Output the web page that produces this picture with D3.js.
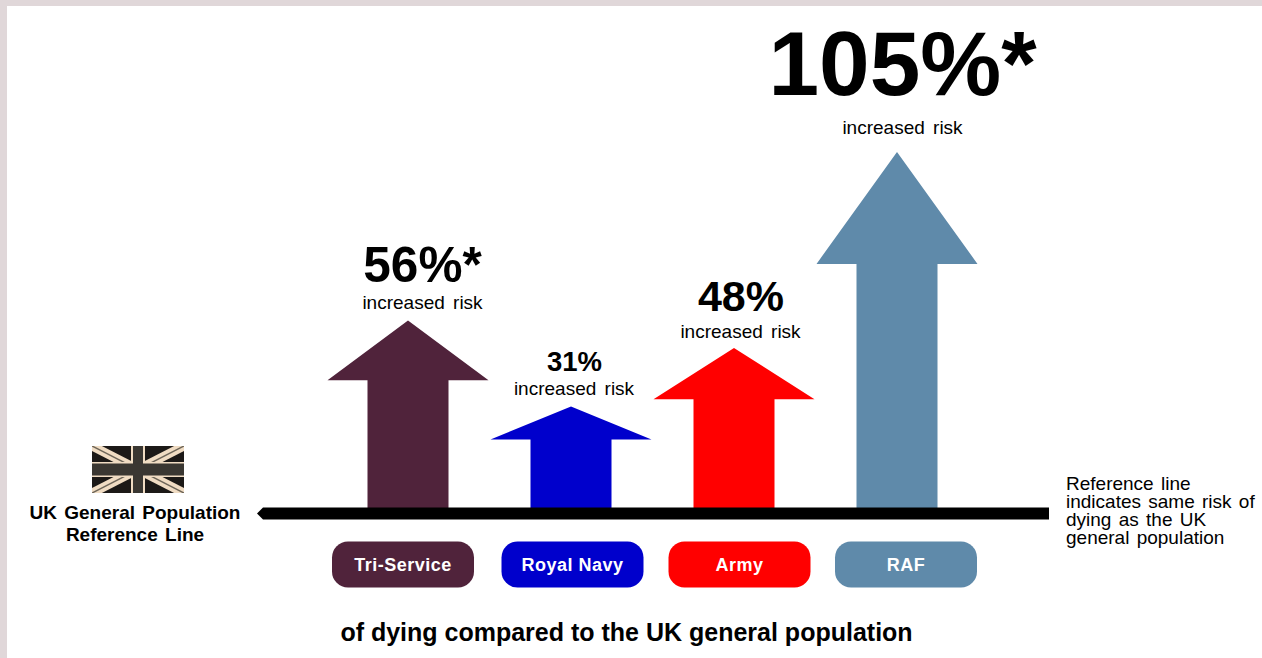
<!DOCTYPE html>
<html>
<head>
<meta charset="utf-8">
<script src="https://cdn.jsdelivr.net/npm/d3@7"></script>
<style>
html,body{margin:0;padding:0;background:#fff;overflow:hidden}
svg{display:block}
text{font-family:"Liberation Sans",Arial,sans-serif;fill:#000}
</style>
</head>
<body>
<svg id="chart" width="1262" height="658"></svg>
<script>
// Excess risk of dying by service, relative to the UK general population
const services = ["Tri-Service", "Royal Navy", "Army", "RAF"];
const riskIncrease = [56, 31, 48, 105];
const significant = [true, false, false, true];
const serviceColors = ["#50233b", "#0000cc", "#ff0000", "#5f8aaa"];
const riskSubtitle = "increased risk";
const referenceNote = ["Reference line", "indicates same risk of", "dying as the UK", "general population"];
const referenceLabel = ["UK General Population", "Reference Line"];
const footer = "of dying compared to the UK general population";

// Label placement per service, measured from the arrow tip and axis centre
const riskFontSizes = [49.5, 27.5, 43, 91];
const riskDx = [14.5, 3.5, 7, 5.5];
const riskDy = [38, 35, 37, 57];
const captionDx = [14.5, 3, 6.5, 5.5];
const captionDy = [11.5, 11.5, 9.5, 18.5];
const pillCentres = [403, 572.5, 739.5, 906];

const svg = d3.select("#chart");

// Page frame: thin band along the top and left edges
svg.append("rect").attr("width", 1262).attr("height", 6).attr("fill", "#e0d7d9");
svg.append("rect").attr("width", 7).attr("height", 658).attr("fill", "#e0d7d9");

const x = d3.scalePoint().domain(services).range([408, 897]);
const y = d3.scaleLinear().domain([0, 105]).range([513, 152]);

const headW = 161, shaftW = 81, headShare = 0.31;

function arrowPath(name, value) {
  const cx = x(name), base = y(0), tip = y(value);
  const neck = tip + (base - tip) * headShare;
  return d3.line()([
    [cx - shaftW / 2, base], [cx - shaftW / 2, neck], [cx - headW / 2, neck],
    [cx, tip], [cx + headW / 2, neck], [cx + shaftW / 2, neck], [cx + shaftW / 2, base]
  ]) + "Z";
}

const rows = services.map((name, i) => ({
  name, value: riskIncrease[i], star: significant[i], color: serviceColors[i], i
}));

svg.append("g").selectAll("path").data(rows).join("path")
  .attr("d", d => arrowPath(d.name, d.value))
  .attr("fill", d => d.color);

// Reference line, tapered to a point at its left end
svg.append("path")
  .attr("d", d3.line()([[257, 513.5], [263, 507.5], [1049, 507.5], [1049, 519.5], [263, 519.5]]) + "Z")
  .attr("fill", "#000");

// Percentage and caption above each arrow
const labels = svg.append("g").selectAll("g").data(rows).join("g");
labels.append("text")
  .attr("x", d => x(d.name) + captionDx[d.i])
  .attr("y", d => y(d.value) - captionDy[d.i])
  .attr("text-anchor", "middle")
  .attr("font-size", 19)
  .attr("word-spacing", 3)
  .text(riskSubtitle);
labels.append("text")
  .attr("x", d => x(d.name) + riskDx[d.i])
  .attr("y", d => y(d.value) - riskDy[d.i])
  .attr("text-anchor", "middle")
  .attr("font-weight", "bold")
  .attr("font-size", d => riskFontSizes[d.i])
  .text(d => d.value + "%" + (d.star ? "*" : ""));

// Service name pills under the line
const pillW = 142, pillH = 46;
const pills = svg.append("g").selectAll("g").data(rows).join("g")
  .attr("transform", d => `translate(${pillCentres[d.i]},564.5)`);
pills.append("rect")
  .attr("x", -pillW / 2).attr("y", -pillH / 2)
  .attr("width", pillW).attr("height", pillH)
  .attr("rx", 16).attr("fill", d => d.color);
pills.append("text")
  .attr("text-anchor", "middle").attr("y", 6.5)
  .attr("font-size", 18).attr("font-weight", "bold")
  .attr("letter-spacing", 0.5)
  .style("fill", "#fff")
  .text(d => d.name);

// Left-hand label for the reference line
svg.append("g").selectAll("text").data(referenceLabel).join("text")
  .attr("x", 135).attr("y", (d, i) => 519 + i * 22)
  .attr("text-anchor", "middle").attr("font-size", 19).attr("font-weight", "bold")
  .attr("word-spacing", 2)
  .text(d => d);

// Right-hand note
svg.append("g").selectAll("text").data(referenceNote).join("text")
  .attr("x", 1066).attr("y", (d, i) => 490 + i * 18)
  .attr("font-size", 19).attr("word-spacing", 2)
  .text(d => d);

svg.append("text")
  .attr("x", 626.5).attr("y", 641)
  .attr("text-anchor", "middle").attr("font-size", 25).attr("font-weight", "bold")
  .text(footer);

// Muted Union flag
const flag = svg.append("g").attr("transform", "translate(92,446)");
const fw = 92, fh = 47;
const cream = "#f0dcc3", charcoal = "#3a3732";
flag.append("rect").attr("width", fw).attr("height", fh).attr("fill", "#1c1917");
flag.append("clipPath").attr("id", "flag-clip")
  .append("rect").attr("width", fw).attr("height", fh);
const field = flag.append("g").attr("clip-path", "url(#flag-clip)");
[[0, 0, fw, fh], [fw, 0, 0, fh]].forEach(([a, b, c, d]) => {
  field.append("line").attr("x1", a).attr("y1", b).attr("x2", c).attr("y2", d)
    .attr("stroke", cream).attr("stroke-width", 9);
  field.append("line").attr("x1", a).attr("y1", b).attr("x2", c).attr("y2", d)
    .attr("stroke", "#6d6558").attr("stroke-width", 1.5);
});
field.append("rect").attr("x", fw / 2 - 7).attr("width", 14).attr("height", fh).attr("fill", cream);
field.append("rect").attr("y", fh / 2 - 7.5).attr("width", fw).attr("height", 15).attr("fill", cream);
field.append("rect").attr("x", fw / 2 - 5).attr("width", 10).attr("height", fh).attr("fill", charcoal);
field.append("rect").attr("y", fh / 2 - 6).attr("width", fw).attr("height", 12).attr("fill", charcoal);
</script>
</body>
</html>
